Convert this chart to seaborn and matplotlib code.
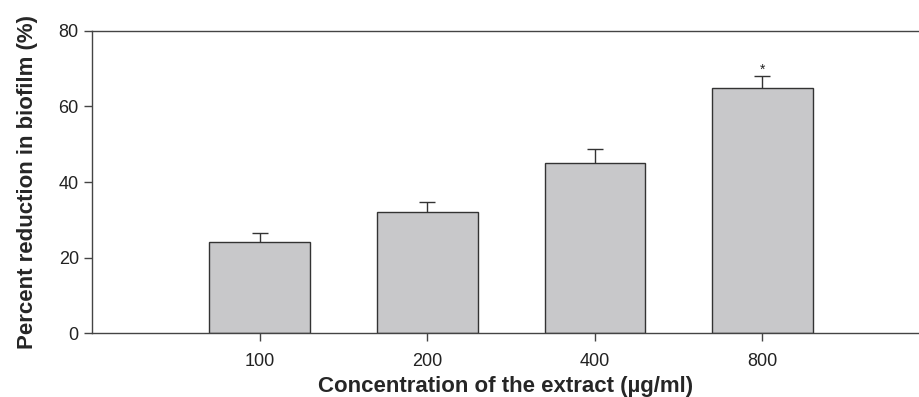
import matplotlib
matplotlib.use('Agg')
import matplotlib.pyplot as plt
import seaborn as sns
import pandas as pd

# datos
concentraciones = ['100', '200', '400', '800']
reduccion = [24.0, 32.0, 45.0, 65.0]
error_sup = [2.5, 2.7, 3.7, 3.0]
marca = ['', '', '', '*']

sns.set_style('white')
plt.rcParams['font.family'] = ['Liberation Sans', 'DejaVu Sans']

df = pd.DataFrame({'conc': concentraciones, 'red': reduccion})

fig = plt.figure(figsize=(9.2, 3.97), dpi=100)
ax = fig.add_axes([0.1, 0.161, 0.9, 0.761])

sns.barplot(data=df, x='conc', y='red', color='#c8c8ca', edgecolor='#333333',
            linewidth=1.0, width=0.6, saturation=1, errorbar=None, ax=ax, zorder=2)

x = range(len(concentraciones))
_, caps, _ = ax.errorbar(x, reduccion, yerr=[[0] * len(error_sup), error_sup], fmt='none',
                         ecolor='#333333', elinewidth=1.0, capsize=6, capthick=1.0, zorder=3)
caps[0].set_visible(False)  # sin tapa inferior
for xi, yi, e, m in zip(x, reduccion, error_sup, marca):
    if m:
        ax.text(xi, yi + e - 0.2, m, ha='center', va='bottom', fontsize=10, color='#222222')

ax.set_xlim(-1.0, 3.94)
ax.set_ylim(0, 80)
ax.set_yticks([0, 20, 40, 60, 80])
ax.set_xlabel('Concentration of the extract (µg/ml)', fontsize=16, fontweight='bold', labelpad=5)
ax.set_ylabel('Percent reduction in biofilm (%)', fontsize=16, fontweight='bold', labelpad=15)

for lado in ['left', 'top', 'bottom']:
    ax.spines[lado].set_color('#444444')
    ax.spines[lado].set_linewidth(1.0)
ax.spines['right'].set_visible(False)
ax.tick_params(axis='both', direction='out', length=6, width=1, color='#444444',
               labelsize=13, labelcolor='#222222', left=True, bottom=True)
ax.tick_params(axis='x', pad=8)

fig.savefig('out.png', dpi=100)
